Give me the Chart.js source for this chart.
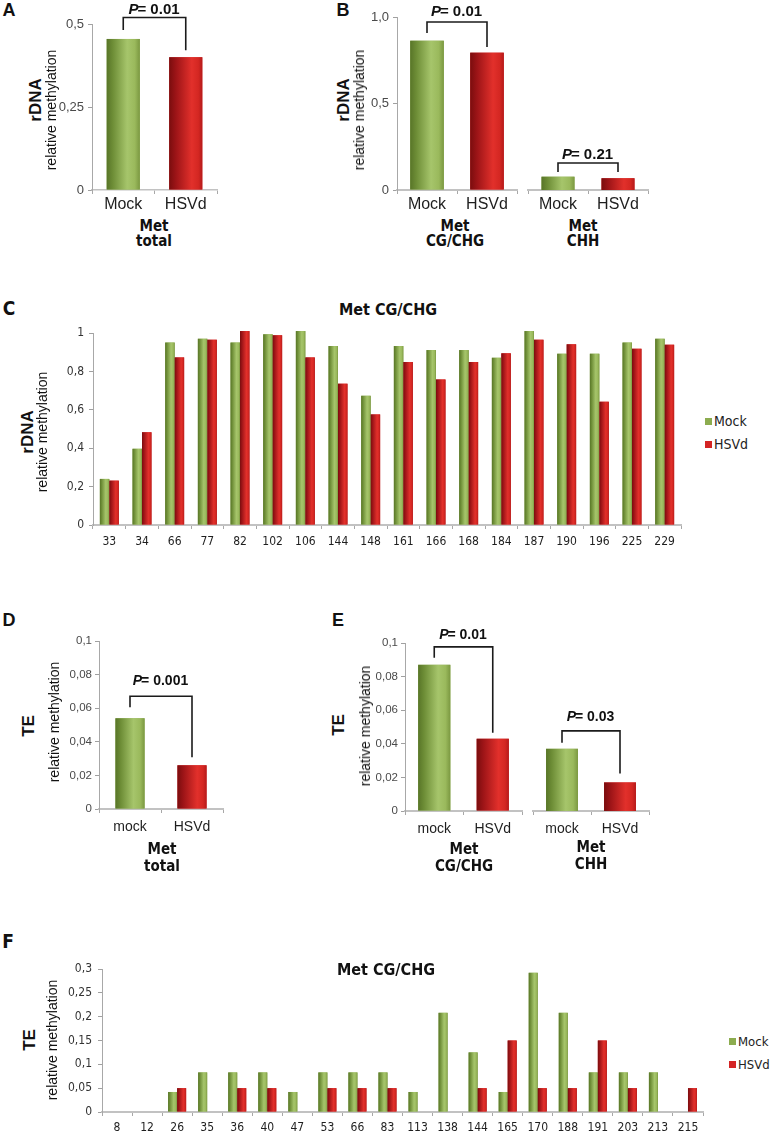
<!DOCTYPE html>
<html><head><meta charset="utf-8">
<script src="https://cdn.jsdelivr.net/npm/chart.js@4"></script>
<style>
html,body{margin:0;padding:0;background:#fff;}
body{width:771px;height:1133px;position:relative;overflow:hidden;font-family:"Liberation Sans",Arial,sans-serif;}
canvas{position:absolute;}
.t{position:absolute;white-space:nowrap;line-height:1;color:#111;}
.sq{position:absolute;width:7px;height:7px;}
</style>
</head><body>
<script>
// ---------------- DATA ----------------
const catsRDNA = ['Mock', 'HSVd'];
const catsTE = ['mock', 'HSVd'];
const rdnaTotal = [0.455, 0.400];
const rdnaCG = [0.863, 0.794];
const rdnaCHH = [0.077, 0.068];
const teTotal = [0.054, 0.026];
const teCG = [0.087, 0.043];
const teCHH = [0.037, 0.017];
const pRdnaTotal = '0.01';
const pRdnaCG = '0.01';
const pRdnaCHH = '0.21';
const pTeTotal = '0.001';
const pTeCG = '0.01';
const pTeCHH = '0.03';

const rdnaSites = ['33','34','66','77','82','102','106','144','148','161','166','168','184','187','190','196','225','229'];
const rdnaSiteMock = [0.240,0.397,0.950,0.970,0.950,0.993,1.010,0.932,0.673,0.932,0.911,0.911,0.871,1.010,0.892,0.892,0.950,0.970];
const rdnaSiteHSVd = [0.231,0.483,0.873,0.965,1.010,0.988,0.873,0.736,0.576,0.849,0.758,0.849,0.894,0.965,0.941,0.642,0.918,0.939];

const teSites = ['8','12','26','35','36','40','47','53','66','83','113','138','144','165','170','188','191','203','213','215'];
const teSiteMock = [0,0,0.042,0.083,0.083,0.083,0.042,0.083,0.083,0.083,0.042,0.208,0.125,0.042,0.292,0.208,0.083,0.083,0.083,0];
const teSiteHSVd = [0,0,0.050,0,0.050,0.050,0,0.050,0.050,0.050,0,0,0.050,0.150,0.050,0.050,0.150,0.050,0,0.050];

const seriesNames = ['Mock', 'HSVd'];

const yTicksA = [0, 0.25, 0.5];           const yLabelsA = ['0', '0,25', '0,5'];
const yTicksB = [0, 0.5, 1];              const yLabelsB = ['0', '0,5', '1,0'];
const yTicksC = [0, 0.2, 0.4, 0.6, 0.8, 1]; const yLabelsC = ['0', '0,2', '0,4', '0,6', '0,8', '1'];
const yTicksTE = [0, 0.02, 0.04, 0.06, 0.08, 0.1]; const yLabelsTE = ['0', '0,02', '0,04', '0,06', '0,08', '0,1'];
const yTicksF = [0, 0.05, 0.1, 0.15, 0.2, 0.25, 0.3]; const yLabelsF = ['0', '0,05', '0,1', '0,15', '0,2', '0,25', '0,3'];

// ---------------- STYLE ----------------
const NARROW = '"Liberation Sans Narrow","DejaVu Sans Condensed","Roboto Condensed",sans-serif';
const ARIAL = '"Liberation Sans",Arial,sans-serif';
const GREEN = '#8cac4f';
const RED = '#d42424';
const STOPS = {
  g: [[0,'#587528'],[0.18,'#6d8d36'],[0.62,'#a6c56b'],[0.85,'#9ab95c'],[1,'#7b9841']],
  r: [[0,'#7a0d0e'],[0.2,'#9c1417'],[0.68,'#e2302b'],[0.88,'#d42722'],[1,'#b51a1a']]
};

const shadePlugin = {
  id: 'shade',
  afterDatasetsDraw(chart) {
    const ctx = chart.ctx;
    chart.data.datasets.forEach((ds, di) => {
      const meta = chart.getDatasetMeta(di);
      meta.data.forEach((el, i) => {
        const p = el.getProps(['x', 'y', 'base', 'width'], true);
        const h = Math.abs(p.base - p.y);
        if (h < 0.5) return;
        const l = p.x - p.width / 2;
        const key = Array.isArray(ds.shade) ? ds.shade[i] : ds.shade;
        const g = ctx.createLinearGradient(l, 0, l + p.width, 0);
        STOPS[key].forEach(s => g.addColorStop(s[0], s[1]));
        ctx.save();
        ctx.fillStyle = g;
        ctx.fillRect(l, Math.min(p.y, p.base), p.width, h);
        ctx.restore();
      });
    });
  }
};

const bracketPlugin = {
  id: 'bracket',
  afterDraw(chart, args, opts) {
    const items = (opts && opts.items) || [];
    const ctx = chart.ctx;
    const meta = chart.getDatasetMeta(0);
    items.forEach(b => {
      const e1 = meta.data[0], e2 = meta.data[1];
      const x1 = e1.x, x2 = e2.x;
      const top = Math.min(e1.y, e2.y) - b.rise;
      ctx.save();
      ctx.strokeStyle = '#1b1b1b';
      ctx.lineWidth = 1.6;
      ctx.beginPath();
      ctx.moveTo(x1, e1.y - b.gap1);
      ctx.lineTo(x1, top);
      ctx.lineTo(x2, top);
      ctx.lineTo(x2, e2.y - b.gap2);
      ctx.stroke();
      const fs = b.size;
      ctx.font = `italic bold ${fs}px ${ARIAL}`;
      const wP = ctx.measureText('P').width;
      ctx.font = `bold ${fs}px ${ARIAL}`;
      const rest = '= ' + b.p;
      const wR = ctx.measureText(rest).width;
      const cx = (x1 + x2) / 2;
      const ty = top - b.lift;
      const sx = cx - (wP + wR) / 2;
      ctx.fillStyle = '#111';
      ctx.textBaseline = 'middle';
      ctx.textAlign = 'left';
      ctx.font = `italic bold ${fs}px ${ARIAL}`;
      ctx.fillText('P', sx, ty);
      ctx.font = `bold ${fs}px ${ARIAL}`;
      ctx.fillText(rest, sx + wP - 1, ty);
      ctx.restore();
    });
  }
};

function makeChart(o) {
  const cv = document.createElement('canvas');
  cv.width = o.box.w; cv.height = o.box.h;
  cv.style.left = o.box.x + 'px'; cv.style.top = o.box.y + 'px';
  cv.style.width = o.box.w + 'px'; cv.style.height = o.box.h + 'px';
  document.body.appendChild(cv);
  const showY = o.showY !== false;
  const yW = o.area.x0 - o.box.x;
  const xH = o.box.y + o.box.h - o.area.y1;
  return new Chart(cv, {
    type: 'bar',
    data: { labels: o.labels, datasets: o.datasets },
    options: {
      responsive: false, animation: false, devicePixelRatio: 1, events: [],
      layout: { padding: { left: showY ? 0 : yW, top: o.area.y0 - o.box.y, right: o.box.x + o.box.w - o.area.x1, bottom: 0 } },
      plugins: { legend: { display: false }, tooltip: { enabled: false }, bracket: { items: o.brackets || [] } },
      datasets: { bar: { barPercentage: o.bar, categoryPercentage: o.cat } },
      scales: {
        x: {
          grid: { display: true, drawOnChartArea: false, offset: true, tickLength: 4, color: '#a8a8a8', lineWidth: 1 },
          border: { display: true, color: '#c2c2c2', width: o.xBorder || 2 },
          ticks: { font: o.xFont, color: '#1e1e1e', padding: o.xPad, maxRotation: 0, autoSkip: false },
          afterFit(s) { s.height = xH; s.paddingLeft = 0; s.paddingRight = 0; }
        },
        y: {
          display: showY, min: 0, max: o.yMax,
          grid: { drawOnChartArea: false, tickLength: 4, color: '#a0a0a0' },
          border: { display: true, color: '#a8a8a8', width: 1 },
          ticks: { font: o.yFont, color: o.yColor || '#4a4a4a', padding: o.yPad || 3, callback: (v, i) => o.yLabels[i] },
          afterBuildTicks(s) { s.ticks = o.yTicks.map(v => ({ value: v })); },
          afterFit(s) { if (showY) { s.width = yW; } s.paddingTop = 0; s.paddingBottom = 0; }
        }
      }
    },
    plugins: [shadePlugin, bracketPlugin]
  });
}

function txt(s, x, y, font, rot, color, left) {
  const d = document.createElement('div');
  d.className = 't';
  d.textContent = s;
  d.style.font = font;
  d.style.left = x + 'px';
  d.style.top = y + 'px';
  d.style.transform = (left ? 'translate(0,-50%)' : 'translate(-50%,-50%)') + (rot ? ' rotate(-90deg)' : '');
  if (color) d.style.color = color;
  document.body.appendChild(d);
}
function sq(x, y, c) {
  const d = document.createElement('div');
  d.className = 'sq'; d.style.left = x + 'px'; d.style.top = y + 'px'; d.style.background = c;
  document.body.appendChild(d);
}

const twoBar = (data) => [{ data: data, backgroundColor: [GREEN, RED], shade: ['g', 'r'] }];
const bigX = { family: ARIAL, size: 16 };
const bigY = { family: ARIAL, size: 13 };
const midX = { family: ARIAL, size: 14 };
const midY = { family: ARIAL, size: 11.5 };
const nar = { family: NARROW, size: 12 };

// ---------------- PANEL A ----------------
makeChart({ box: { x: 50, y: 0, w: 180, h: 215 }, area: { x0: 92, x1: 217, y0: 24, y1: 190 },
  labels: catsRDNA, datasets: twoBar(rdnaTotal), yMax: 0.5, yTicks: yTicksA, yLabels: yLabelsA,
  bar: 0.53, cat: 1, xFont: bigX, yFont: bigY, xPad: 1, yPad: 4, xBorder: 1.5,
  brackets: [{ p: pRdnaTotal, rise: 21.5, gap1: 9, gap2: 7, lift: 7.5, size: 15 }] });

// ---------------- PANEL B ----------------
makeChart({ box: { x: 360, y: 0, w: 162, h: 215 }, area: { x0: 397, x1: 517, y0: 17, y1: 190 },
  labels: catsRDNA, datasets: twoBar(rdnaCG), yMax: 1, yTicks: yTicksB, yLabels: yLabelsB,
  bar: 0.56, cat: 1, xFont: bigX, yFont: bigY, xPad: 1, yPad: 4,
  brackets: [{ p: pRdnaCG, rise: 18.7, gap1: 7.7, gap2: 5.7, lift: 10, size: 15 }] });
makeChart({ box: { x: 522, y: 0, w: 140, h: 215 }, area: { x0: 528, x1: 648, y0: 17, y1: 190 }, showY: false,
  labels: catsRDNA, datasets: twoBar(rdnaCHH), yMax: 1, yTicks: yTicksB, yLabels: yLabelsB,
  bar: 0.55, cat: 1, xFont: bigX, yFont: bigY, xPad: 1,
  brackets: [{ p: pRdnaCHH, rise: 13.7, gap1: 4.7, gap2: 6.3, lift: 8, size: 15 }] });

// ---------------- PANEL C ----------------
makeChart({ box: { x: 40, y: 320, w: 660, h: 240 }, area: { x0: 93, x1: 681, y0: 333, y1: 525 },
  labels: rdnaSites,
  datasets: [
    { label: seriesNames[0], data: rdnaSiteMock, backgroundColor: GREEN, shade: 'g', clip: false },
    { label: seriesNames[1], data: rdnaSiteHSVd, backgroundColor: RED, shade: 'r', clip: false }
  ],
  yMax: 1, yTicks: yTicksC, yLabels: yLabelsC, bar: 1, cat: 0.58, xFont: nar, yFont: nar, xPad: 6, yPad: 5, yColor: '#333' });

// ---------------- PANEL D ----------------
makeChart({ box: { x: 50, y: 600, w: 185, h: 245 }, area: { x0: 99, x1: 223, y0: 641, y1: 809 },
  labels: catsTE, datasets: twoBar(teTotal), yMax: 0.1, yTicks: yTicksTE, yLabels: yLabelsTE,
  bar: 0.47, cat: 1, xFont: midX, yFont: midY, xPad: 6, yPad: 3,
  brackets: [{ p: pTeTotal, rise: 22, gap1: 11, gap2: 8, lift: 15, size: 14 }] });

// ---------------- PANEL E ----------------
makeChart({ box: { x: 360, y: 600, w: 166, h: 245 }, area: { x0: 405, x1: 522, y0: 643, y1: 811 },
  labels: catsTE, datasets: twoBar(teCG), yMax: 0.1, yTicks: yTicksTE, yLabels: yLabelsTE,
  bar: 0.55, cat: 1, xFont: midX, yFont: midY, xPad: 6, yPad: 3,
  brackets: [{ p: pTeCG, rise: 18, gap1: 7, gap2: 6, lift: 12, size: 14 }] });
makeChart({ box: { x: 526, y: 600, w: 140, h: 245 }, area: { x0: 533, x1: 649, y0: 643, y1: 811 }, showY: false,
  labels: catsTE, datasets: twoBar(teCHH), yMax: 0.1, yTicks: yTicksTE, yLabels: yLabelsTE,
  bar: 0.55, cat: 1, xFont: midX, yFont: midY, xPad: 6,
  brackets: [{ p: pTeCHH, rise: 18, gap1: 6, gap2: 9, lift: 14, size: 14 }] });

// ---------------- PANEL F ----------------
makeChart({ box: { x: 40, y: 950, w: 675, h: 183 }, area: { x0: 102, x1: 703, y0: 969, y1: 1112 },
  labels: teSites,
  datasets: [
    { label: seriesNames[0], data: teSiteMock, backgroundColor: GREEN, shade: 'g', clip: false },
    { label: seriesNames[1], data: teSiteHSVd, backgroundColor: RED, shade: 'r', clip: false }
  ],
  yMax: 0.3, yTicks: yTicksF, yLabels: yLabelsF, bar: 1, cat: 0.6, xFont: nar, yFont: nar, xPad: 5, yPad: 6, yColor: '#333' });

// ---------------- TEXT ----------------
const LET = `bold 18px ${ARIAL}`;
const LETN = `bold 19px ${NARROW}`;
const YT1 = `bold 17px ${ARIAL}`;
const YT2 = `14px ${ARIAL}`;
const GRP = `bold 15px ${NARROW}`;
const TIT = `bold 16px ${NARROW}`;
const LEG = `14px ${NARROW}`;
const LEGF = `13px ${NARROW}`;

txt('A', 9, 10, LET);
txt('B', 343, 10, LET);
txt('C', 9, 308, LETN);
txt('D', 9, 620, LET);
txt('E', 338, 620, LET);
txt('F', 8, 941, LETN);

txt('rDNA', 36, 100, YT1, true);
txt('relative methylation', 51, 110, YT2, true);
txt('rDNA', 344, 100, YT1, true);
txt('relative methylation', 359, 110, YT2, true);
txt('rDNA', 28, 432, YT1, true);
txt('relative methylation', 42, 432, YT2, true);
txt('TE', 29, 726, YT1, true);
txt('relative methylation', 54, 722, YT2, true);
txt('TE', 339, 725, YT1, true);
txt('relative methylation', 365, 726, YT2, true);
txt('TE', 30, 1040, YT1, true);
txt('relative methylation', 52, 1040, YT2, true);

txt('Met', 154, 226, GRP); txt('total', 154, 241, GRP);
txt('Met', 455, 226, GRP); txt('CG/CHG', 455, 241, GRP);
txt('Met', 583, 226, GRP); txt('CHH', 583, 241, GRP);
txt('Met', 162, 849, GRP); txt('total', 162, 866, GRP);
txt('Met', 464, 849, GRP); txt('CG/CHG', 464, 866, GRP);
txt('Met', 591, 847, GRP); txt('CHH', 591, 864, GRP);

txt('Met CG/CHG', 388, 309, TIT);
txt('Met CG/CHG', 386, 969, TIT);

// legends
sq(705, 418, GREEN); txt(seriesNames[0], 714, 421, LEG, false, '#222', true);
sq(705, 441, RED);   txt(seriesNames[1], 714, 444, LEG, false, '#222', true);
sq(729, 1038, GREEN); txt(seriesNames[0], 738, 1041, LEGF, false, '#222', true);
sq(729, 1061, RED);   txt(seriesNames[1], 738, 1064, LEGF, false, '#222', true);
</script>
</body></html>
